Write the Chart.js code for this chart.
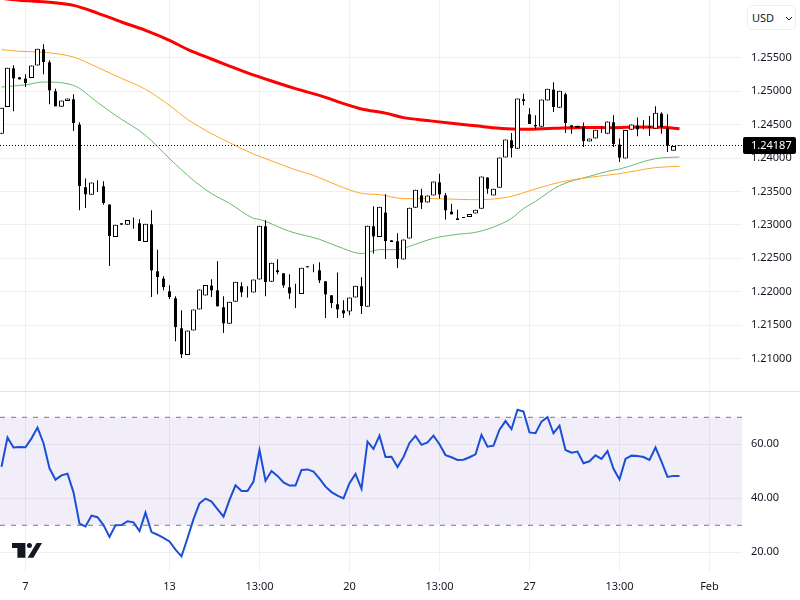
<!DOCTYPE html>
<html>
<head>
<meta charset="utf-8">
<title>GBP/USD</title>
<script src="https://cdn.jsdelivr.net/npm/chart.js@4/dist/chart.umd.min.js"></script>
<style>
    html, body { margin: 0; padding: 0; background: #fff; }
    body { width: 800px; height: 600px; position: relative; overflow: hidden; font-family: "Noto Sans", sans-serif; }
    canvas { position: absolute; left: 0; display: block; }
    #priceChart { top: 0; }
    #rsiChart { top: 391px; }
    #sep { position: absolute; left: 0; top: 391px; width: 800px; height: 1px; background: #e0e3eb; }
    #usd { position: absolute; left: 747px; top: 5px; width: 47px; height: 23px; border: 1px solid #eeeff3; border-radius: 5px;
           box-sizing: content-box; font-size: 11px; line-height: 23px; color: #131722; text-indent: 4px; background: #fff; }
    #usd svg { position: absolute; left: 37px; top: 10px; }
    #logo { position: absolute; left: 12px; top: 543px; }
</style>
</head>
<body>
<canvas id="priceChart" width="800" height="391"></canvas>
<canvas id="rsiChart" width="800" height="209"></canvas>
<div id="sep"></div>
<div id="usd">USD<svg width="8" height="5" viewBox="0 0 8 5"><path d="M1 1l3 3 3-3" fill="none" stroke="#131722" stroke-width="1"/></svg></div>
<svg id="logo" width="30" height="15" viewBox="0 0 30 15">
    <path d="M0 0h13.4v14.8H5.4V5H0z" fill="#131722"/>
    <circle cx="17.4" cy="2.5" r="2.5" fill="#131722"/>
    <path d="M24.6 0H30l-8.6 14.8h-5.8z" fill="#131722"/>
</svg>
<script>
const opens = [1.24364,1.24762,1.25340,1.25206,1.25187,1.25196,1.25381,1.25625,1.25430,1.24997,
    1.24768,1.24852,1.24877,1.24499,1.23562,1.23450,1.23582,1.23577,1.23303,1.22819,
    1.23024,1.23004,1.23030,1.23024,1.22744,1.23009,1.22306,1.22197,1.22007,1.21902,
    1.21454,1.21055,1.21420,1.21734,1.21943,1.22092,1.22022,1.21768,1.21524,1.21853,
    1.22082,1.22000,1.21988,1.22182,1.22979,1.22152,1.22321,1.22276,1.22067,1.21950,
    1.21967,1.22381,1.22350,1.22321,1.22157,1.21947,1.21813,1.21723,1.21704,1.21913,
    1.22082,1.21778,1.22979,1.22819,1.23184,1.22769,1.22755,1.22481,1.22795,1.23258,
    1.23442,1.23333,1.23438,1.23636,1.23442,1.23198,1.23098,1.23118,1.23118,1.23169,
    1.23243,1.23707,1.23438,1.23557,1.24006,1.24264,1.24140,1.24877,1.24653,1.24493,
    1.24469,1.24858,1.25022,1.24753,1.24952,1.24488,1.24454,1.24469,1.24245,1.24290,
    1.24420,1.24364,1.24533,1.24200,1.23991,1.24424,1.24484,1.24480,1.24474,1.24439,
    1.24663,1.24444,1.24110,1.24180];
const highs = [1.24753,1.25351,1.25385,1.25206,1.25251,1.25381,1.25635,1.25699,1.25460,1.25037,
    1.24858,1.24888,1.24952,1.24533,1.23692,1.23632,1.23666,1.23651,1.23308,1.23004,
    1.23024,1.23073,1.23109,1.23083,1.23019,1.23218,1.22630,1.22231,1.22097,1.21932,
    1.21723,1.21420,1.21734,1.22033,1.22101,1.22187,1.22456,1.21932,1.21853,1.22152,
    1.22142,1.22082,1.22182,1.22989,1.23068,1.22436,1.22485,1.22276,1.22261,1.22122,
    1.22361,1.22381,1.22411,1.22441,1.22157,1.21947,1.22287,1.21873,1.21913,1.22092,
    1.22216,1.22989,1.23278,1.23273,1.23457,1.22769,1.22874,1.22780,1.23258,1.23527,
    1.23542,1.23438,1.23647,1.23766,1.23476,1.23318,1.23228,1.23118,1.23163,1.23228,
    1.23722,1.23711,1.23542,1.24006,1.24275,1.24373,1.24888,1.24962,1.24743,1.24638,
    1.24873,1.25037,1.25131,1.25007,1.24977,1.24488,1.24484,1.24529,1.24290,1.24424,
    1.24474,1.24544,1.24638,1.24290,1.24418,1.24499,1.24604,1.24563,1.24628,1.24773,
    1.24683,1.24653,1.24179,1.24187];
const lows = [1.24364,1.24762,1.24698,1.25176,1.25061,1.25196,1.25381,1.25251,1.24802,1.24773,
    1.24768,1.24852,1.24403,1.23218,1.23252,1.23450,1.23491,1.23303,1.22385,1.22819,
    1.23004,1.23004,1.22944,1.22759,1.22744,1.21922,1.21962,1.22022,1.21892,1.21260,
    1.21010,1.21055,1.21420,1.21734,1.21943,1.21922,1.21783,1.21384,1.21524,1.21853,
    1.21922,1.21913,1.21988,1.22182,1.21932,1.22152,1.22261,1.22062,1.21892,1.21757,
    1.21967,1.22366,1.22291,1.22131,1.21608,1.21757,1.21608,1.21608,1.21648,1.21913,
    1.21668,1.21778,1.22571,1.22819,1.22490,1.22744,1.22355,1.22481,1.22795,1.23258,
    1.23237,1.23333,1.23438,1.23393,1.23079,1.23158,1.23073,1.23103,1.23118,1.23169,
    1.23243,1.23467,1.23438,1.23557,1.24006,1.24006,1.24140,1.24787,1.24508,1.24429,
    1.24469,1.24858,1.24687,1.24753,1.24373,1.24364,1.24454,1.24164,1.24245,1.24290,
    1.24373,1.24364,1.24164,1.23940,1.23991,1.24424,1.24324,1.24429,1.24329,1.24439,
    1.24364,1.24089,1.24110,1.24180];
const closes = [1.24753,1.25351,1.25191,1.25176,1.25121,1.25381,1.25635,1.25435,1.25012,1.24773,
    1.24858,1.24888,1.24523,1.23581,1.23457,1.23632,1.23582,1.23327,1.22834,1.23004,
    1.23004,1.23073,1.23030,1.22759,1.23019,1.22321,1.22221,1.22071,1.21922,1.21473,
    1.21065,1.21420,1.21734,1.22033,1.22101,1.22022,1.21783,1.21529,1.21853,1.22152,
    1.21992,1.22000,1.22182,1.22989,1.22146,1.22436,1.22296,1.22097,1.21977,1.21950,
    1.22361,1.22366,1.22350,1.22172,1.21962,1.21832,1.21738,1.21678,1.21913,1.22092,
    1.21787,1.22989,1.22829,1.23273,1.22759,1.22744,1.22490,1.22780,1.23258,1.23527,
    1.23333,1.23438,1.23647,1.23457,1.23218,1.23158,1.23073,1.23103,1.23163,1.23228,
    1.23722,1.23542,1.23542,1.24006,1.24275,1.24149,1.24888,1.24852,1.24508,1.24474,
    1.24873,1.25037,1.24762,1.25007,1.24523,1.24463,1.24484,1.24254,1.24290,1.24424,
    1.24420,1.24544,1.24209,1.24006,1.24418,1.24499,1.24429,1.24480,1.24448,1.24678,
    1.24463,1.24185,1.24179,1.24187];

// moving averages at these bars
const redBars = [0,3,7,12,16,20,24,28,31,35,38,41,45,49,54,57,60,64,67,71,75,79,83,87,92,97,102,106,110,113];
const redValues = [1.26387,1.26357,1.26335,1.26282,1.26167,1.26033,1.25909,1.25759,1.25625,1.25480,
    1.25375,1.25273,1.25151,1.25037,1.24907,1.24813,1.24732,1.24671,1.24604,1.24560,
    1.24518,1.24481,1.24444,1.24429,1.24444,1.24456,1.24454,1.24463,1.24459,1.24439];
const orangeBars = [0,3,7,12,16,20,24,28,31,35,38,42,45,49,52,56,60,63,67,72,78,80,83,85,88,93,98,103,109,113];
const orangeValues = [1.25620,1.25595,1.25580,1.25509,1.25355,1.25191,1.25027,1.24787,1.24578,1.24364,
    1.24230,1.24059,1.23958,1.23823,1.23741,1.23592,1.23472,1.23453,1.23393,1.23393,
    1.23378,1.23378,1.23397,1.23427,1.23509,1.23636,1.23711,1.23766,1.23856,1.23876];
const greenBars = [0,4,7,12,16,19,24,28,32,35,38,42,43,48,53,57,60,63,66,68,72,76,79,82,85,87,89,93,98,101,103,109,113];
const greenValues = [1.25061,1.25094,1.25136,1.25086,1.24832,1.24638,1.24339,1.23991,1.23666,1.23468,
    1.23323,1.23098,1.23083,1.22904,1.22784,1.22645,1.22571,1.22630,1.22630,1.22680,
    1.22799,1.22859,1.22889,1.22968,1.23098,1.23243,1.23352,1.23587,1.23726,1.23801,
    1.23835,1.23991,1.24015];

const rsiValues = [51.7,62.5,58.8,59.0,58.9,62.2,66.2,60.4,51.1,46.9,
    48.5,49.1,42.2,30.6,29.6,33.6,33.0,30.1,25.7,30.0,
    30.1,31.5,31.1,27.9,34.7,27.5,26.5,25.3,24.0,21.0,
    18.5,25.2,32.3,38.1,39.9,38.8,36.0,33.2,39.4,44.8,
    42.7,42.7,46.2,57.9,46.5,50.1,48.3,45.9,44.7,44.7,
    50.5,50.7,49.9,47.3,44.3,42.3,41.0,40.0,45.6,49.0,
    43.5,61.0,58.3,63.2,55.3,55.4,51.6,55.3,60.5,63.1,
    59.8,60.7,63.2,60.0,56.0,55.2,54.2,54.3,55.2,56.3,
    63.5,59.1,59.5,65.4,68.6,65.6,72.8,72.1,64.4,64.1,
    68.4,70.1,64.1,66.9,57.9,56.9,57.3,53.0,53.7,55.9,
    54.6,57.5,50.9,47.0,54.6,55.8,55.7,55.3,54.2,58.8,
    53.6,47.9,48.3,48.3];

const priceTicks = [1.21,1.215,1.22,1.225,1.23,1.235,1.24,1.245,1.25,1.255];
const rsiTicks = [20,40,60];
const rsiBand = [70,30];
const xTickBars = [4,28,43,58,73,88,103,118];
const xTickLabels = ['7','13','13:00','20','13:00','27','13:00','Feb'];

const lastPrice = 1.24187;
const xMin = -0.25, xMax = 123.4167;
const gridColor = '#f0f0f0';
const textColor = '#131722';
const axisFont = { family: '"Noto Sans", sans-serif', size: 11 };

const bars = opens.map((o, i) => i);
const upBars = bars.filter(i => closes[i] >= opens[i]);
const downBars = bars.filter(i => closes[i] < opens[i]);

function lineSet(xs, ys, color, width, order) {
    return {
        type: 'line',
        data: xs.map((x, k) => ({ x: x, y: ys[k] })),
        borderColor: color,
        borderWidth: width,
        pointRadius: 0,
        cubicInterpolationMode: 'monotone',
        order: order
    };
}

// chart.js reserves room for half a tick label at the ends, we don't want that
function noScalePadding(scale) {
    scale.paddingTop = 0;
    scale.paddingBottom = 0;
    scale.paddingLeft = 0;
    scale.paddingRight = 0;
}

function xAxis(showLabels) {
    return {
        type: 'linear',
        offset: false,
        min: xMin,
        max: xMax,
        afterBuildTicks: function(scale) { scale.ticks = xTickBars.map(v => ({ value: v })); },
        afterFit: function(scale) {
            scale.height = showLabels ? 28 : 0;
            noScalePadding(scale);
        },
        border: { display: false },
        grid: { color: gridColor, offset: false, drawTicks: false },
        ticks: {
            display: showLabels,
            autoSkip: false,
            maxRotation: 0,
            padding: 8,
            color: textColor,
            font: axisFont,
            callback: function(v) { return xTickLabels[xTickBars.indexOf(v)]; }
        }
    };
}

function yAxis(min, max, tickValues, digits) {
    return {
        position: 'right',
        min: min,
        max: max,
        afterBuildTicks: function(scale) { scale.ticks = tickValues.map(v => ({ value: v })); },
        afterFit: function(scale) {
            scale.width = 58;
            noScalePadding(scale);
        },
        border: { display: false },
        grid: { color: gridColor, drawTicks: false },
        ticks: {
            autoSkip: false,
            padding: 9,
            color: textColor,
            font: axisFont,
            callback: function(v) { return v.toFixed(digits); }
        }
    };
}

// black tag with the last price, on top of the axis labels
const lastPriceTag = {
    id: 'lastPriceTag',
    afterDraw: function(chart) {
        const ctx = chart.ctx;
        const y = chart.scales.y.getPixelForValue(lastPrice);
        ctx.save();
        ctx.fillStyle = '#000';
        ctx.beginPath();
        ctx.roundRect(743, Math.round(y) - 8, 53, 17, 2);
        ctx.fill();
        ctx.fillStyle = '#fff';
        ctx.font = '11px "Noto Sans", sans-serif';
        ctx.textBaseline = 'middle';
        ctx.fillText(lastPrice.toFixed(5), 751, y + 0.5);
        ctx.restore();
    }
};

new Chart(document.getElementById('priceChart'), {
    type: 'bar',
    data: {
        datasets: [
            lineSet(redBars, redValues, '#ff0000', 3, 5),
            lineSet(orangeBars, orangeValues, '#ffa726', 1, 6),
            lineSet(greenBars, greenValues, '#66bb6a', 1, 7),
            {
                type: 'line',
                data: [{ x: xMin, y: lastPrice }, { x: xMax, y: lastPrice }],
                borderColor: '#000',
                borderWidth: 1,
                borderDash: [1, 2],
                pointRadius: 0,
                order: 4
            },
            {
                data: bars.map(i => ({ x: i, y: [lows[i], highs[i]] })),
                backgroundColor: '#000',
                borderWidth: 0,
                barThickness: 1,
                grouped: false,
                inflateAmount: 0,
                order: 3
            },
            {
                data: downBars.map(i => ({ x: i, y: [opens[i], closes[i]] })),
                backgroundColor: '#000',
                borderWidth: 0,
                barThickness: 3,
                grouped: false,
                inflateAmount: 0,
                order: 2
            },
            {
                data: upBars.map(i => ({ x: i, y: [opens[i], closes[i]] })),
                backgroundColor: '#fff',
                borderColor: '#000',
                borderWidth: 1,
                borderSkipped: false,
                barThickness: 5,
                grouped: false,
                inflateAmount: 0,
                order: 1
            }
        ]
    },
    options: {
        responsive: false,
        animation: false,
        events: [],
        layout: { padding: 0 },
        scales: {
            x: xAxis(false),
            y: yAxis(1.20517, 1.26362, priceTicks, 5)
        },
        plugins: { legend: { display: false }, tooltip: { enabled: false } }
    },
    plugins: [lastPriceTag]
});

new Chart(document.getElementById('rsiChart'), {
    type: 'line',
    data: {
        datasets: [
            {
                data: bars.map(i => ({ x: i, y: rsiValues[i] })),
                borderColor: '#1a4fd6',
                borderWidth: 2,
                pointRadius: 0,
                order: 1
            },
            {
                data: [{ x: xMin, y: rsiBand[0] }, { x: xMax, y: rsiBand[0] }],
                borderColor: '#787b86',
                borderWidth: 1,
                borderDash: [5, 6],
                pointRadius: 0,
                fill: '+1',
                backgroundColor: 'rgba(126,87,194,0.1)',
                order: 2
            },
            {
                data: [{ x: xMin, y: rsiBand[1] }, { x: xMax, y: rsiBand[1] }],
                borderColor: '#787b86',
                borderWidth: 1,
                borderDash: [5, 6],
                pointRadius: 0,
                order: 3
            }
        ]
    },
    options: {
        responsive: false,
        animation: false,
        events: [],
        layout: { padding: 0 },
        scales: {
            x: xAxis(true),
            y: yAxis(12.7, 79.74, rsiTicks, 2)
        },
        plugins: { legend: { display: false }, tooltip: { enabled: false } }
    }
});
</script>
</body>
</html>
